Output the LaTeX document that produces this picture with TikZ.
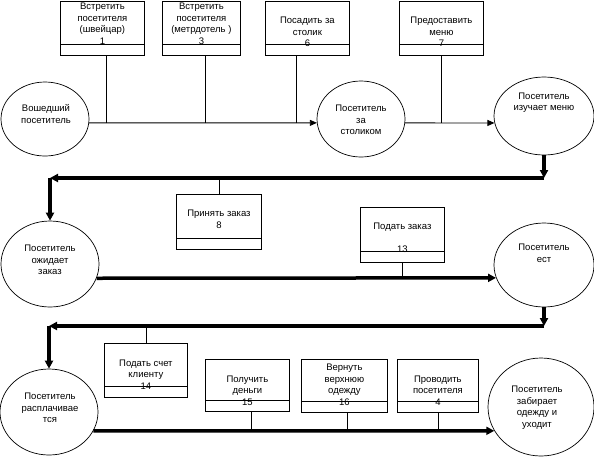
\documentclass[tikz,border=0pt]{standalone}
\usepackage{fontspec}
\setmainfont{Liberation Sans}
\usetikzlibrary{arrows.meta, positioning, calc, shapes.geometric}

% box with a number strip: name, left, top, width, height, text, text baseline above bottom
\newcommand{\actbox}[7]{%
    \node[actbox, anchor=north west, minimum width=#4pt, minimum height=#5pt] (#1) at (#2,#3) {};
    \draw[link] ([yshift=11pt]#1.south west) -- ([yshift=11pt]#1.south east);
    \node[boxtext, anchor=south] (#1t) at ([yshift=#7pt]#1.south) {#6};
}

\begin{document}
\begin{tikzpicture}[x=1pt, y=-1pt,
    actbox/.style={draw, line width=0.8pt, inner sep=0pt},
    boxtext/.style={align=center, inner sep=0pt, font=\fontsize{9.5}{11.5}\selectfont},
    state/.style={draw, ellipse, line width=0.7pt, inner sep=0pt},
    link/.style={line width=0.8pt},
    thin flow/.style={line width=0.8pt, -{Triangle[length=7pt,width=6pt]}},
    thick flow/.style={line width=3.5pt, -{Triangle[length=8pt,width=8pt]}}]

    \useasboundingbox (0,0) rectangle (594,456);

    % States
    \node[state, minimum width=88pt, minimum height=74pt] (e1) at (45,119) {};
    \node[state, minimum width=88pt, minimum height=76pt] (e2) at (361,119) {};
    \node[state, minimum width=100pt, minimum height=78pt] (e3) at (544,116) {};
    \node[state, minimum width=98pt, minimum height=86pt] (e4) at (50,264) {};
    \node[state, minimum width=100pt, minimum height=84pt] (e5) at (544,265) {};
    \node[state, minimum width=98pt, minimum height=86pt] (e6) at (49,412) {};
    \node[state, minimum width=106pt, minimum height=98pt] (e7) at (541,407) {};

    \node[boxtext] (e1t) at (46,114) {Вошедший\\посетитель};
    \node[boxtext] (e2t) at (361,120) {Посетитель\\за\\столиком};
    \node[boxtext] (e3t) at (544,102.5) {Посетитель\\изучает меню};
    \node[boxtext] (e4t) at (50,260) {Посетитель\\ожидает\\заказ};
    \node[boxtext] (e5t) at (544,253.5) {Посетитель\\ест};
    \node[boxtext] (e6t) at (50,408) {Посетитель\\расплачивае\\тся};
    \node[boxtext] (e7t) at (537,407.5) {Посетитель\\забирает\\одежду и\\уходит};

    % Activities
    \actbox{f1}{60}{1}{84}{54}{Встретить\\посетителя\\(швейцар)\\1}{11.5}
    \actbox{f3}{162}{1}{78}{54}{Встретить\\посетителя\\(метрдотель )\\3}{11.5}
    \actbox{f6}{265}{1}{84}{54}{Посадить за\\столик\\6}{9}
    \actbox{f7}{399}{1}{84}{54}{Предоставить\\меню\\7}{9}
    \actbox{f8}{176}{194}{85}{55}{Принять заказ\\8}{21.5}
    \actbox{f13}{360}{207}{84}{55}{Подать заказ\\[11.5pt]13}{10.5}
    \actbox{f14}{104}{343}{83}{54}{Подать счет\\клиенту\\14}{8.5}
    \actbox{f15}{205}{359}{84}{52}{Получить\\деньги\\15}{6.5}
    \actbox{f16}{301}{359}{86}{53}{Вернуть\\верхнюю\\одежду\\16}{7.5}
    \actbox{f4}{397}{359}{81}{53}{Проводить\\посетителя\\4}{7.5}

    % Corners of the thick flows
    \coordinate (c1) at (e3.south |- 0,178);
    \coordinate (c2) at (e4.north |- c1);
    \coordinate (c3) at (e5.south |- 0,326);
    \coordinate (c4) at (e6.north |- c3);

    % First row
    \draw[thin flow] (e1.-5) -- (e2.185);
    \draw[thin flow] (e2.-5) -- (e3.188);
    \draw[link] ([xshift=4pt]f1.south) -- ([xshift=4pt]f1.south |- e1.-5);
    \draw[link] ([xshift=4pt]f3.south) -- ([xshift=4pt]f3.south |- e1.-5);
    \draw[link] ([xshift=-11pt]f6.south) -- ([xshift=-11pt]f6.south |- e1.-5);
    \draw[link] (f7.south) -- (f7.south |- e2.-5);

    % Second row
    \draw[thick flow] (e3.south) -- (c1);
    \draw[thick flow] (c1) -- (c2);
    \draw[thick flow] (c2) -- (e4.north);
    \draw[link] (f8.north) -- (f8.north |- c1);
    \draw[thick flow] (e4.-17) -- (e5.195);
    \draw[link] (f13.south) -- (f13.south |- e5.195);

    % Third row
    \draw[thick flow] (e5.south) -- (c3);
    \draw[thick flow] (c3) -- (c4);
    \draw[thick flow] (c4) -- (e6.north);
    \draw[link] (f14.north) -- (f14.north |- c3);
    \draw[thick flow] (e6.-23) -- (e7.207.5);
    \draw[link] ([xshift=4pt]f15.south) -- ([xshift=4pt]f15.south |- e7.207.5);
    \draw[link] ([xshift=3pt]f16.south) -- ([xshift=3pt]f16.south |- e7.207.5);
    \draw[link] (f4.south) -- (f4.south |- e7.207.5);

\end{tikzpicture}
\end{document}
